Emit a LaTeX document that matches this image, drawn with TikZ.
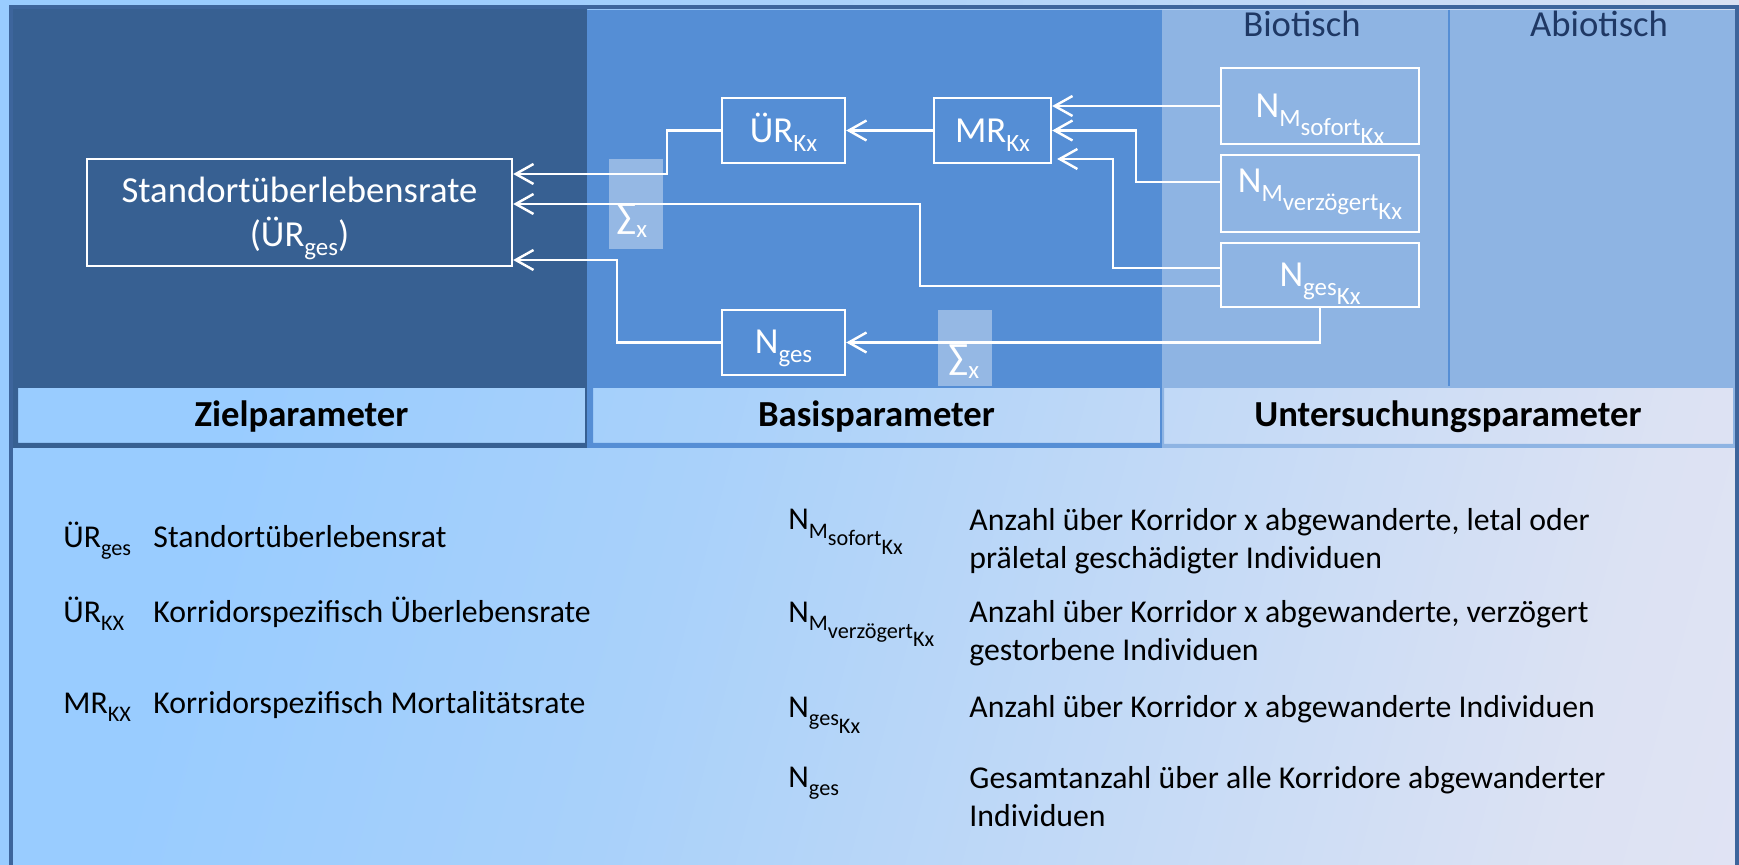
\documentclass[tikz,border=0pt]{standalone}
\usepackage{fontspec}
\setmainfont{Carlito}
\usetikzlibrary{arrows.meta,fit}

\definecolor{zielblau}{HTML}{376092}
\definecolor{basisblau}{HTML}{558ED5}
\definecolor{untersblau}{HTML}{8EB4E3}
\definecolor{rahmen}{HTML}{3D659C}
\definecolor{titel}{HTML}{1F3864}
\definecolor{hgA}{HTML}{99CCFF}
\definecolor{hgB}{HTML}{A9D1FA}
\definecolor{hgC}{HTML}{DCE2F3}
\definecolor{hgD}{HTML}{EEE8F6}

\pgfdeclarehorizontalshading{hintergrund}{100bp}{color(0bp)=(hgA); color(30bp)=(hgA); color(45bp)=(hgB); color(75bp)=(hgC); color(100bp)=(hgD)}

% subscripts of the diagram (d) and of the legend (l); nesting lowers further
\newcommand\dsub[1]{\raisebox{-4pt}{\fontsize{11.2}{12}\selectfont #1}}
\newcommand\lsub[1]{\raisebox{-3.6pt}{\fontsize{10}{11}\selectfont #1}}

\begin{document}
\begin{tikzpicture}[x=0.45pt, y=-0.45pt,
  box/.style={draw=white, line width=1.1pt, inner sep=0pt},
  conn/.style={draw=white, line width=1.1pt, -{Straight Barb[length=8pt,width=9pt]}},
  wtext/.style={text=white, font=\fontsize{16.5}{19.8}\selectfont, inner sep=0pt},
  striplabel/.style={font=\bfseries\fontsize{16.5}{19.8}\selectfont, inner sep=0pt, anchor=base},
  coltitle/.style={text=titel, font=\fontsize{16.5}{19.8}\selectfont, inner sep=0pt, anchor=base},
  legend/.style={font=\fontsize{14.3}{17.1}\selectfont, inner sep=0pt, anchor=base west, align=left},
  sumpatch/.style={fill=white, fill opacity=0.38}]

\useasboundingbox (0,0) rectangle (1739,865);
\shade[shading=hintergrund, shading angle=-15] (0,0) rectangle (1739,865);

% three panels, each with an open label strip at the bottom
\fill[zielblau, even odd rule] (10,6) rectangle (587,448) (18,388) rectangle (585,443);
\fill[basisblau, even odd rule] (587,10) rectangle (1162,448) (593,388) rectangle (1160,443);
\fill[untersblau, even odd rule] (1162,10) rectangle (1736,448) (1164,388) rectangle (1733,444);
\draw[basisblau, line width=0.8pt] (1449,10) -- (1449,386);
\draw[rahmen, line width=1.8pt] (11,7.5) rectangle (1736.5,900);

% strip labels and column titles
\node[striplabel] (ziel) at (301.5,427) {Zielparameter};
\node[striplabel] (basis) at (876.5,427) {Basisparameter};
\node[striplabel] (unters) at (1448,427) {Untersuchungsparameter};
\node[coltitle] (bio) at (1302,37) {Biotisch};
\node[coltitle] (abio) at (1599,37) {Abiotisch};

% summation patches
\fill[sumpatch] (609,159) rectangle (663,249);
\fill[sumpatch] (938,310) rectangle (992,386);
\node[wtext, anchor=base west] (sum1) at (616,229) {∑\dsub{x}};
\node[wtext, anchor=base west] (sum2) at (948,370) {∑\dsub{x}};

% boxes
\node[box, fit={(87,159) (512,266)}] (std) {};
\node[box, fit={(722,98) (845,163)}] (urk) {};
\node[box, fit={(934,98) (1051,163)}] (mrk) {};
\node[box, fit={(722,310) (845,375)}] (nges) {};
\node[box, fit={(1221,68) (1419,144)}] (nms) {};
\node[box, fit={(1221,155) (1419,232)}] (nmv) {};
\node[box, fit={(1221,243) (1419,307)}] (ngk) {};

% box texts (a two-line node sits on the baseline of its last line)
\node[wtext, anchor=base, align=center] (stdtext) at (299.5,247) {Standortüberlebensrate\\(ÜR\dsub{ges})};
\node[wtext, anchor=base] (urktext) at (783.5,143) {ÜR\dsub{Kx}};
\node[wtext, anchor=base] (mrktext) at (992.5,143) {MR\dsub{Kx}};
\node[wtext, anchor=base] (ngestext) at (783.5,354) {N\dsub{ges}};
\node[wtext, anchor=base] (nmstext) at (1320,118) {N\dsub{M\dsub{sofort\dsub{Kx}}}};
\node[wtext, anchor=base] (nmvtext) at (1320,193) {N\dsub{M\dsub{verzögert\dsub{Kx}}}};
\node[wtext, anchor=base] (ngktext) at (1320,287) {N\dsub{ges\dsub{Kx}}};

% connectors
\coordinate (k1) at (667,174);
\draw[conn] (urk.west) -| (k1) -- (std.east |- k1);
\coordinate (k2) at (920,204);
\coordinate (k2b) at (920,286);
\draw[conn] (ngk.west |- k2b) -- (k2b) -- (k2) -- (std.east |- k2);
\coordinate (k3) at (617,260);
\draw[conn] (nges.west) -| (k3) -- (std.east |- k3);
\draw[conn] (mrk.west) -- (urk.east);
\draw[conn] (nms.west) -- (mrk.east |- nms.west);
\coordinate (k6) at (1136,182);
\draw[conn] (nmv.west |- k6) -- (k6) |- (mrk.east);
\coordinate (k7) at (1113,268);
\coordinate (k7b) at (1113,159);
\draw[conn, shorten >=2.2pt] (ngk.west |- k7) -- (k7) -- (k7b) -- (mrk.east |- k7b);
\draw[conn] (ngk.south) |- (nges.east);

% legend
\node[legend] (l1s) at (63,547) {ÜR\lsub{ges}};
\node[legend] (l1t) at (153,547) {Standortüberlebensrat};
\node[legend] (l2s) at (63,622) {ÜR\lsub{KX}};
\node[legend] (l2t) at (153,622) {Korridorspezifisch Überlebensrate};
\node[legend] (l3s) at (63,713) {MR\lsub{KX}};
\node[legend] (l3t) at (153,713) {Korridorspezifisch Mortalitätsrate};

\node[legend] (r1s) at (788,530) {N\lsub{M\lsub{sofort\lsub{Kx}}}};
\node[legend] (r1t) at (969,568) {Anzahl über Korridor x abgewanderte, letal oder\\präletal geschädigter Individuen};
\node[legend] (r2s) at (788,622) {N\lsub{M\lsub{verzögert\lsub{Kx}}}};
\node[legend] (r2t) at (969,660) {Anzahl über Korridor x abgewanderte, verzögert\\gestorbene Individuen};
\node[legend] (r3s) at (788,717) {N\lsub{ges\lsub{Kx}}};
\node[legend] (r3t) at (969,717) {Anzahl über Korridor x abgewanderte Individuen};
\node[legend] (r4s) at (788,787) {N\lsub{ges}};
\node[legend] (r4t) at (969,826) {Gesamtanzahl über alle Korridore abgewanderter\\Individuen};
\end{tikzpicture}
\end{document}
